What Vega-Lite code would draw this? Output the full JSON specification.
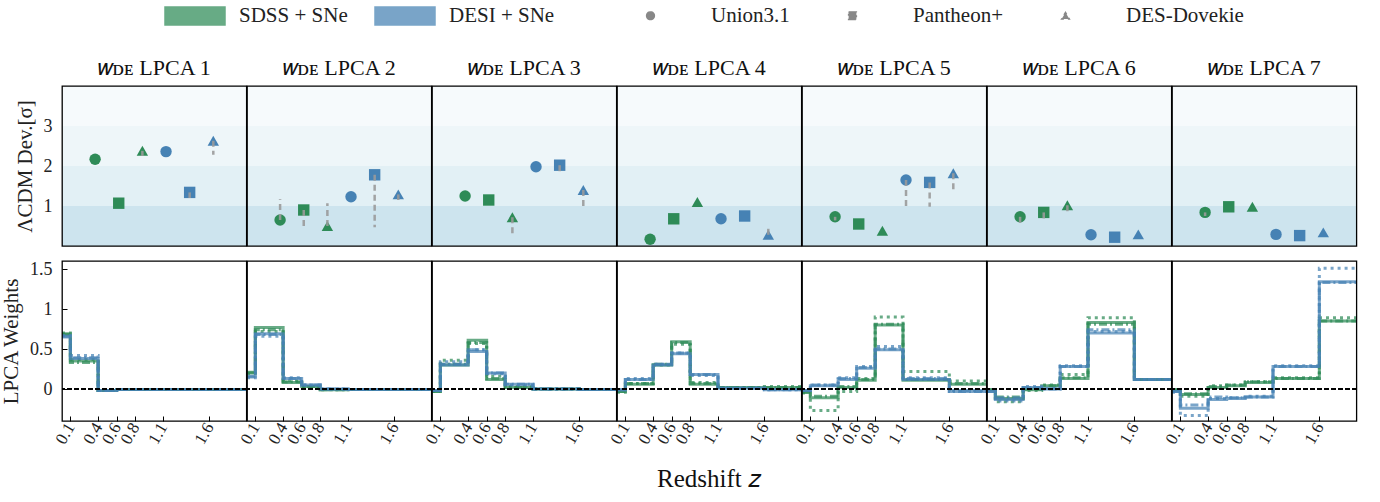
{
  "$schema": "https://vega.github.io/schema/vega-lite/v6.json",
  "padding": {"left": 0, "top": 0, "right": 20, "bottom": 4},
  "config": {
    "font": "Liberation Serif",
    "view": {"stroke": "black", "strokeWidth": 1.3},
    "style": {"cell": {"strokeForeground": true}},
    "axis": {"labelFont": "Liberation Serif", "labelFontSize": 17, "labelColor": "#222", "titleFont": "Liberation Serif", "titleFontWeight": "normal", "titleFontSize": 21, "titleColor": "#222", "grid": false, "domain": false, "tickColor": "black", "tickSize": -5, "labelPadding": 10, "zindex": 1},
    "header": {"labelFont": "Liberation Serif", "labelFontSize": 22, "labelColor": "#111", "titleFont": "Liberation Serif", "titleFontWeight": "normal", "titleColor": "#111"},
    "legend": {"labelFont": "Liberation Serif", "labelFontSize": 21, "labelColor": "#222"}
  },
  "datasets": {
    "top": [
      {"p":"1","k":"band","lo":0,"hi":1,"band":"0-1"},{"p":"1","k":"band","lo":1,"hi":2,"band":"1-2"},{"p":"1","k":"band","lo":2,"hi":3,"band":"2-3"},{"p":"1","k":"band","lo":3,"hi":4,"band":"3-4"},
      {"p":"2","k":"band","lo":0,"hi":1,"band":"0-1"},{"p":"2","k":"band","lo":1,"hi":2,"band":"1-2"},{"p":"2","k":"band","lo":2,"hi":3,"band":"2-3"},{"p":"2","k":"band","lo":3,"hi":4,"band":"3-4"},
      {"p":"3","k":"band","lo":0,"hi":1,"band":"0-1"},{"p":"3","k":"band","lo":1,"hi":2,"band":"1-2"},{"p":"3","k":"band","lo":2,"hi":3,"band":"2-3"},{"p":"3","k":"band","lo":3,"hi":4,"band":"3-4"},
      {"p":"4","k":"band","lo":0,"hi":1,"band":"0-1"},{"p":"4","k":"band","lo":1,"hi":2,"band":"1-2"},{"p":"4","k":"band","lo":2,"hi":3,"band":"2-3"},{"p":"4","k":"band","lo":3,"hi":4,"band":"3-4"},
      {"p":"5","k":"band","lo":0,"hi":1,"band":"0-1"},{"p":"5","k":"band","lo":1,"hi":2,"band":"1-2"},{"p":"5","k":"band","lo":2,"hi":3,"band":"2-3"},{"p":"5","k":"band","lo":3,"hi":4,"band":"3-4"},
      {"p":"6","k":"band","lo":0,"hi":1,"band":"0-1"},{"p":"6","k":"band","lo":1,"hi":2,"band":"1-2"},{"p":"6","k":"band","lo":2,"hi":3,"band":"2-3"},{"p":"6","k":"band","lo":3,"hi":4,"band":"3-4"},
      {"p":"7","k":"band","lo":0,"hi":1,"band":"0-1"},{"p":"7","k":"band","lo":1,"hi":2,"band":"1-2"},{"p":"7","k":"band","lo":2,"hi":3,"band":"2-3"},{"p":"7","k":"band","lo":3,"hi":4,"band":"3-4"},
      {"p":"1","k":"pt","i":0,"d":"SDSS + SNe","s":"Union3.1","v":2.17,"v2":null},
      {"p":"1","k":"pt","i":1,"d":"SDSS + SNe","s":"Pantheon+","v":1.07,"v2":null},
      {"p":"1","k":"pt","i":2,"d":"SDSS + SNe","s":"DES-Dovekie","v":2.38,"v2":2.25},
      {"p":"1","k":"pt","i":3,"d":"DESI + SNe","s":"Union3.1","v":2.36,"v2":null},
      {"p":"1","k":"pt","i":4,"d":"DESI + SNe","s":"Pantheon+","v":1.34,"v2":1.2},
      {"p":"1","k":"pt","i":5,"d":"DESI + SNe","s":"DES-Dovekie","v":2.63,"v2":2.28},
      {"p":"2","k":"pt","i":0,"d":"SDSS + SNe","s":"Union3.1","v":0.65,"v2":1.17},
      {"p":"2","k":"pt","i":1,"d":"SDSS + SNe","s":"Pantheon+","v":0.9,"v2":0.4},
      {"p":"2","k":"pt","i":2,"d":"SDSS + SNe","s":"DES-Dovekie","v":0.5,"v2":1.07},
      {"p":"2","k":"pt","i":3,"d":"DESI + SNe","s":"Union3.1","v":1.23,"v2":null},
      {"p":"2","k":"pt","i":4,"d":"DESI + SNe","s":"Pantheon+","v":1.78,"v2":0.47},
      {"p":"2","k":"pt","i":5,"d":"DESI + SNe","s":"DES-Dovekie","v":1.29,"v2":1.15},
      {"p":"3","k":"pt","i":0,"d":"SDSS + SNe","s":"Union3.1","v":1.25,"v2":null},
      {"p":"3","k":"pt","i":1,"d":"SDSS + SNe","s":"Pantheon+","v":1.15,"v2":null},
      {"p":"3","k":"pt","i":2,"d":"SDSS + SNe","s":"DES-Dovekie","v":0.72,"v2":0.28},
      {"p":"3","k":"pt","i":3,"d":"DESI + SNe","s":"Union3.1","v":1.98,"v2":null},
      {"p":"3","k":"pt","i":4,"d":"DESI + SNe","s":"Pantheon+","v":2.02,"v2":1.78},
      {"p":"3","k":"pt","i":5,"d":"DESI + SNe","s":"DES-Dovekie","v":1.4,"v2":0.9},
      {"p":"4","k":"pt","i":0,"d":"SDSS + SNe","s":"Union3.1","v":0.17,"v2":null},
      {"p":"4","k":"pt","i":1,"d":"SDSS + SNe","s":"Pantheon+","v":0.68,"v2":null},
      {"p":"4","k":"pt","i":2,"d":"SDSS + SNe","s":"DES-Dovekie","v":1.1,"v2":null},
      {"p":"4","k":"pt","i":3,"d":"DESI + SNe","s":"Union3.1","v":0.68,"v2":null},
      {"p":"4","k":"pt","i":4,"d":"DESI + SNe","s":"Pantheon+","v":0.75,"v2":null},
      {"p":"4","k":"pt","i":5,"d":"DESI + SNe","s":"DES-Dovekie","v":0.28,"v2":0.44},
      {"p":"5","k":"pt","i":0,"d":"SDSS + SNe","s":"Union3.1","v":0.73,"v2":0.64},
      {"p":"5","k":"pt","i":1,"d":"SDSS + SNe","s":"Pantheon+","v":0.55,"v2":null},
      {"p":"5","k":"pt","i":2,"d":"SDSS + SNe","s":"DES-Dovekie","v":0.38,"v2":null},
      {"p":"5","k":"pt","i":3,"d":"DESI + SNe","s":"Union3.1","v":1.65,"v2":0.9},
      {"p":"5","k":"pt","i":4,"d":"DESI + SNe","s":"Pantheon+","v":1.59,"v2":0.98},
      {"p":"5","k":"pt","i":5,"d":"DESI + SNe","s":"DES-Dovekie","v":1.82,"v2":1.42},
      {"p":"6","k":"pt","i":0,"d":"SDSS + SNe","s":"Union3.1","v":0.73,"v2":0.52},
      {"p":"6","k":"pt","i":1,"d":"SDSS + SNe","s":"Pantheon+","v":0.84,"v2":0.61},
      {"p":"6","k":"pt","i":2,"d":"SDSS + SNe","s":"DES-Dovekie","v":1.02,"v2":0.83},
      {"p":"6","k":"pt","i":3,"d":"DESI + SNe","s":"Union3.1","v":0.28,"v2":null},
      {"p":"6","k":"pt","i":4,"d":"DESI + SNe","s":"Pantheon+","v":0.22,"v2":null},
      {"p":"6","k":"pt","i":5,"d":"DESI + SNe","s":"DES-Dovekie","v":0.29,"v2":null},
      {"p":"7","k":"pt","i":0,"d":"SDSS + SNe","s":"Union3.1","v":0.84,"v2":0.75},
      {"p":"7","k":"pt","i":1,"d":"SDSS + SNe","s":"Pantheon+","v":0.98,"v2":null},
      {"p":"7","k":"pt","i":2,"d":"SDSS + SNe","s":"DES-Dovekie","v":0.98,"v2":null},
      {"p":"7","k":"pt","i":3,"d":"DESI + SNe","s":"Union3.1","v":0.29,"v2":null},
      {"p":"7","k":"pt","i":4,"d":"DESI + SNe","s":"Pantheon+","v":0.26,"v2":null},
      {"p":"7","k":"pt","i":5,"d":"DESI + SNe","s":"DES-Dovekie","v":0.34,"v2":null}
    ],
    "bottom": [
      {"p":"1","d":"SDSS + SNe","s":"Union3.1","z":0.01,"w":0.69},{"p":"1","d":"SDSS + SNe","s":"Union3.1","z":0.1,"w":0.35},{"p":"1","d":"SDSS + SNe","s":"Union3.1","z":0.4,"w":-0.02},{"p":"1","d":"SDSS + SNe","s":"Union3.1","z":0.6,"w":-0.005},{"p":"1","d":"SDSS + SNe","s":"Union3.1","z":0.8,"w":-0.005},{"p":"1","d":"SDSS + SNe","s":"Union3.1","z":1.1,"w":-0.005},{"p":"1","d":"SDSS + SNe","s":"Union3.1","z":1.6,"w":-0.005},{"p":"1","d":"SDSS + SNe","s":"Union3.1","z":2.0,"w":-0.005},
      {"p":"1","d":"SDSS + SNe","s":"Pantheon+","z":0.01,"w":0.68},{"p":"1","d":"SDSS + SNe","s":"Pantheon+","z":0.1,"w":0.33},{"p":"1","d":"SDSS + SNe","s":"Pantheon+","z":0.4,"w":-0.02},{"p":"1","d":"SDSS + SNe","s":"Pantheon+","z":0.6,"w":-0.005},{"p":"1","d":"SDSS + SNe","s":"Pantheon+","z":0.8,"w":-0.005},{"p":"1","d":"SDSS + SNe","s":"Pantheon+","z":1.1,"w":-0.005},{"p":"1","d":"SDSS + SNe","s":"Pantheon+","z":1.6,"w":-0.005},{"p":"1","d":"SDSS + SNe","s":"Pantheon+","z":2.0,"w":-0.005},
      {"p":"1","d":"SDSS + SNe","s":"DES-Dovekie","z":0.01,"w":0.7},{"p":"1","d":"SDSS + SNe","s":"DES-Dovekie","z":0.1,"w":0.37},{"p":"1","d":"SDSS + SNe","s":"DES-Dovekie","z":0.4,"w":-0.02},{"p":"1","d":"SDSS + SNe","s":"DES-Dovekie","z":0.6,"w":-0.005},{"p":"1","d":"SDSS + SNe","s":"DES-Dovekie","z":0.8,"w":-0.005},{"p":"1","d":"SDSS + SNe","s":"DES-Dovekie","z":1.1,"w":-0.005},{"p":"1","d":"SDSS + SNe","s":"DES-Dovekie","z":1.6,"w":-0.005},{"p":"1","d":"SDSS + SNe","s":"DES-Dovekie","z":2.0,"w":-0.005},
      {"p":"1","d":"DESI + SNe","s":"Union3.1","z":0.01,"w":0.66},{"p":"1","d":"DESI + SNe","s":"Union3.1","z":0.1,"w":0.38},{"p":"1","d":"DESI + SNe","s":"Union3.1","z":0.4,"w":-0.02},{"p":"1","d":"DESI + SNe","s":"Union3.1","z":0.6,"w":-0.005},{"p":"1","d":"DESI + SNe","s":"Union3.1","z":0.8,"w":-0.005},{"p":"1","d":"DESI + SNe","s":"Union3.1","z":1.1,"w":-0.005},{"p":"1","d":"DESI + SNe","s":"Union3.1","z":1.6,"w":-0.005},{"p":"1","d":"DESI + SNe","s":"Union3.1","z":2.0,"w":-0.005},
      {"p":"1","d":"DESI + SNe","s":"Pantheon+","z":0.01,"w":0.65},{"p":"1","d":"DESI + SNe","s":"Pantheon+","z":0.1,"w":0.39},{"p":"1","d":"DESI + SNe","s":"Pantheon+","z":0.4,"w":-0.02},{"p":"1","d":"DESI + SNe","s":"Pantheon+","z":0.6,"w":-0.005},{"p":"1","d":"DESI + SNe","s":"Pantheon+","z":0.8,"w":-0.005},{"p":"1","d":"DESI + SNe","s":"Pantheon+","z":1.1,"w":-0.005},{"p":"1","d":"DESI + SNe","s":"Pantheon+","z":1.6,"w":-0.005},{"p":"1","d":"DESI + SNe","s":"Pantheon+","z":2.0,"w":-0.005},
      {"p":"1","d":"DESI + SNe","s":"DES-Dovekie","z":0.01,"w":0.67},{"p":"1","d":"DESI + SNe","s":"DES-Dovekie","z":0.1,"w":0.42},{"p":"1","d":"DESI + SNe","s":"DES-Dovekie","z":0.4,"w":-0.02},{"p":"1","d":"DESI + SNe","s":"DES-Dovekie","z":0.6,"w":-0.005},{"p":"1","d":"DESI + SNe","s":"DES-Dovekie","z":0.8,"w":-0.005},{"p":"1","d":"DESI + SNe","s":"DES-Dovekie","z":1.1,"w":-0.005},{"p":"1","d":"DESI + SNe","s":"DES-Dovekie","z":1.6,"w":-0.005},{"p":"1","d":"DESI + SNe","s":"DES-Dovekie","z":2.0,"w":-0.005},

      {"p":"2","d":"SDSS + SNe","s":"Union3.1","z":0.01,"w":0.21},{"p":"2","d":"SDSS + SNe","s":"Union3.1","z":0.1,"w":0.77},{"p":"2","d":"SDSS + SNe","s":"Union3.1","z":0.4,"w":0.08},{"p":"2","d":"SDSS + SNe","s":"Union3.1","z":0.6,"w":0.03},{"p":"2","d":"SDSS + SNe","s":"Union3.1","z":0.8,"w":-0.01},{"p":"2","d":"SDSS + SNe","s":"Union3.1","z":1.1,"w":-0.005},{"p":"2","d":"SDSS + SNe","s":"Union3.1","z":1.6,"w":-0.005},{"p":"2","d":"SDSS + SNe","s":"Union3.1","z":2.0,"w":-0.005},
      {"p":"2","d":"SDSS + SNe","s":"Pantheon+","z":0.01,"w":0.2},{"p":"2","d":"SDSS + SNe","s":"Pantheon+","z":0.1,"w":0.74},{"p":"2","d":"SDSS + SNe","s":"Pantheon+","z":0.4,"w":0.09},{"p":"2","d":"SDSS + SNe","s":"Pantheon+","z":0.6,"w":0.03},{"p":"2","d":"SDSS + SNe","s":"Pantheon+","z":0.8,"w":-0.01},{"p":"2","d":"SDSS + SNe","s":"Pantheon+","z":1.1,"w":-0.005},{"p":"2","d":"SDSS + SNe","s":"Pantheon+","z":1.6,"w":-0.005},{"p":"2","d":"SDSS + SNe","s":"Pantheon+","z":2.0,"w":-0.005},
      {"p":"2","d":"SDSS + SNe","s":"DES-Dovekie","z":0.01,"w":0.19},{"p":"2","d":"SDSS + SNe","s":"DES-Dovekie","z":0.1,"w":0.72},{"p":"2","d":"SDSS + SNe","s":"DES-Dovekie","z":0.4,"w":0.1},{"p":"2","d":"SDSS + SNe","s":"DES-Dovekie","z":0.6,"w":0.02},{"p":"2","d":"SDSS + SNe","s":"DES-Dovekie","z":0.8,"w":-0.01},{"p":"2","d":"SDSS + SNe","s":"DES-Dovekie","z":1.1,"w":-0.005},{"p":"2","d":"SDSS + SNe","s":"DES-Dovekie","z":1.6,"w":-0.005},{"p":"2","d":"SDSS + SNe","s":"DES-Dovekie","z":2.0,"w":-0.005},
      {"p":"2","d":"DESI + SNe","s":"Union3.1","z":0.01,"w":0.16},{"p":"2","d":"DESI + SNe","s":"Union3.1","z":0.1,"w":0.69},{"p":"2","d":"DESI + SNe","s":"Union3.1","z":0.4,"w":0.13},{"p":"2","d":"DESI + SNe","s":"Union3.1","z":0.6,"w":0.05},{"p":"2","d":"DESI + SNe","s":"Union3.1","z":0.8,"w":0.0},{"p":"2","d":"DESI + SNe","s":"Union3.1","z":1.1,"w":-0.005},{"p":"2","d":"DESI + SNe","s":"Union3.1","z":1.6,"w":-0.005},{"p":"2","d":"DESI + SNe","s":"Union3.1","z":2.0,"w":-0.005},
      {"p":"2","d":"DESI + SNe","s":"Pantheon+","z":0.01,"w":0.15},{"p":"2","d":"DESI + SNe","s":"Pantheon+","z":0.1,"w":0.68},{"p":"2","d":"DESI + SNe","s":"Pantheon+","z":0.4,"w":0.13},{"p":"2","d":"DESI + SNe","s":"Pantheon+","z":0.6,"w":0.05},{"p":"2","d":"DESI + SNe","s":"Pantheon+","z":0.8,"w":0.0},{"p":"2","d":"DESI + SNe","s":"Pantheon+","z":1.1,"w":-0.005},{"p":"2","d":"DESI + SNe","s":"Pantheon+","z":1.6,"w":-0.005},{"p":"2","d":"DESI + SNe","s":"Pantheon+","z":2.0,"w":-0.005},
      {"p":"2","d":"DESI + SNe","s":"DES-Dovekie","z":0.01,"w":0.14},{"p":"2","d":"DESI + SNe","s":"DES-Dovekie","z":0.1,"w":0.66},{"p":"2","d":"DESI + SNe","s":"DES-Dovekie","z":0.4,"w":0.14},{"p":"2","d":"DESI + SNe","s":"DES-Dovekie","z":0.6,"w":0.05},{"p":"2","d":"DESI + SNe","s":"DES-Dovekie","z":0.8,"w":0.0},{"p":"2","d":"DESI + SNe","s":"DES-Dovekie","z":1.1,"w":-0.005},{"p":"2","d":"DESI + SNe","s":"DES-Dovekie","z":1.6,"w":-0.005},{"p":"2","d":"DESI + SNe","s":"DES-Dovekie","z":2.0,"w":-0.005},

      {"p":"3","d":"SDSS + SNe","s":"Union3.1","z":0.01,"w":-0.03},{"p":"3","d":"SDSS + SNe","s":"Union3.1","z":0.1,"w":0.3},{"p":"3","d":"SDSS + SNe","s":"Union3.1","z":0.4,"w":0.61},{"p":"3","d":"SDSS + SNe","s":"Union3.1","z":0.6,"w":0.12},{"p":"3","d":"SDSS + SNe","s":"Union3.1","z":0.8,"w":0.02},{"p":"3","d":"SDSS + SNe","s":"Union3.1","z":1.1,"w":0.0},{"p":"3","d":"SDSS + SNe","s":"Union3.1","z":1.6,"w":-0.005},{"p":"3","d":"SDSS + SNe","s":"Union3.1","z":2.0,"w":-0.005},
      {"p":"3","d":"SDSS + SNe","s":"Pantheon+","z":0.01,"w":-0.03},{"p":"3","d":"SDSS + SNe","s":"Pantheon+","z":0.1,"w":0.31},{"p":"3","d":"SDSS + SNe","s":"Pantheon+","z":0.4,"w":0.58},{"p":"3","d":"SDSS + SNe","s":"Pantheon+","z":0.6,"w":0.13},{"p":"3","d":"SDSS + SNe","s":"Pantheon+","z":0.8,"w":0.02},{"p":"3","d":"SDSS + SNe","s":"Pantheon+","z":1.1,"w":0.0},{"p":"3","d":"SDSS + SNe","s":"Pantheon+","z":1.6,"w":-0.005},{"p":"3","d":"SDSS + SNe","s":"Pantheon+","z":2.0,"w":-0.005},
      {"p":"3","d":"SDSS + SNe","s":"DES-Dovekie","z":0.01,"w":-0.03},{"p":"3","d":"SDSS + SNe","s":"DES-Dovekie","z":0.1,"w":0.36},{"p":"3","d":"SDSS + SNe","s":"DES-Dovekie","z":0.4,"w":0.57},{"p":"3","d":"SDSS + SNe","s":"DES-Dovekie","z":0.6,"w":0.16},{"p":"3","d":"SDSS + SNe","s":"DES-Dovekie","z":0.8,"w":0.03},{"p":"3","d":"SDSS + SNe","s":"DES-Dovekie","z":1.1,"w":0.0},{"p":"3","d":"SDSS + SNe","s":"DES-Dovekie","z":1.6,"w":-0.005},{"p":"3","d":"SDSS + SNe","s":"DES-Dovekie","z":2.0,"w":-0.005},
      {"p":"3","d":"DESI + SNe","s":"Union3.1","z":0.01,"w":-0.02},{"p":"3","d":"DESI + SNe","s":"Union3.1","z":0.1,"w":0.3},{"p":"3","d":"DESI + SNe","s":"Union3.1","z":0.4,"w":0.47},{"p":"3","d":"DESI + SNe","s":"Union3.1","z":0.6,"w":0.2},{"p":"3","d":"DESI + SNe","s":"Union3.1","z":0.8,"w":0.06},{"p":"3","d":"DESI + SNe","s":"Union3.1","z":1.1,"w":0.0},{"p":"3","d":"DESI + SNe","s":"Union3.1","z":1.6,"w":-0.005},{"p":"3","d":"DESI + SNe","s":"Union3.1","z":2.0,"w":-0.005},
      {"p":"3","d":"DESI + SNe","s":"Pantheon+","z":0.01,"w":-0.02},{"p":"3","d":"DESI + SNe","s":"Pantheon+","z":0.1,"w":0.31},{"p":"3","d":"DESI + SNe","s":"Pantheon+","z":0.4,"w":0.49},{"p":"3","d":"DESI + SNe","s":"Pantheon+","z":0.6,"w":0.2},{"p":"3","d":"DESI + SNe","s":"Pantheon+","z":0.8,"w":0.06},{"p":"3","d":"DESI + SNe","s":"Pantheon+","z":1.1,"w":0.0},{"p":"3","d":"DESI + SNe","s":"Pantheon+","z":1.6,"w":-0.005},{"p":"3","d":"DESI + SNe","s":"Pantheon+","z":2.0,"w":-0.005},
      {"p":"3","d":"DESI + SNe","s":"DES-Dovekie","z":0.01,"w":-0.02},{"p":"3","d":"DESI + SNe","s":"DES-Dovekie","z":0.1,"w":0.34},{"p":"3","d":"DESI + SNe","s":"DES-Dovekie","z":0.4,"w":0.49},{"p":"3","d":"DESI + SNe","s":"DES-Dovekie","z":0.6,"w":0.19},{"p":"3","d":"DESI + SNe","s":"DES-Dovekie","z":0.8,"w":0.05},{"p":"3","d":"DESI + SNe","s":"DES-Dovekie","z":1.1,"w":0.0},{"p":"3","d":"DESI + SNe","s":"DES-Dovekie","z":1.6,"w":-0.005},{"p":"3","d":"DESI + SNe","s":"DES-Dovekie","z":2.0,"w":-0.005},

      {"p":"4","d":"SDSS + SNe","s":"Union3.1","z":0.01,"w":-0.03},{"p":"4","d":"SDSS + SNe","s":"Union3.1","z":0.1,"w":0.06},{"p":"4","d":"SDSS + SNe","s":"Union3.1","z":0.4,"w":0.3},{"p":"4","d":"SDSS + SNe","s":"Union3.1","z":0.6,"w":0.59},{"p":"4","d":"SDSS + SNe","s":"Union3.1","z":0.8,"w":0.06},{"p":"4","d":"SDSS + SNe","s":"Union3.1","z":1.1,"w":0.02},{"p":"4","d":"SDSS + SNe","s":"Union3.1","z":1.6,"w":0.02},{"p":"4","d":"SDSS + SNe","s":"Union3.1","z":2.0,"w":0.02},
      {"p":"4","d":"SDSS + SNe","s":"Pantheon+","z":0.01,"w":-0.03},{"p":"4","d":"SDSS + SNe","s":"Pantheon+","z":0.1,"w":0.07},{"p":"4","d":"SDSS + SNe","s":"Pantheon+","z":0.4,"w":0.31},{"p":"4","d":"SDSS + SNe","s":"Pantheon+","z":0.6,"w":0.58},{"p":"4","d":"SDSS + SNe","s":"Pantheon+","z":0.8,"w":0.07},{"p":"4","d":"SDSS + SNe","s":"Pantheon+","z":1.1,"w":0.02},{"p":"4","d":"SDSS + SNe","s":"Pantheon+","z":1.6,"w":0.02},{"p":"4","d":"SDSS + SNe","s":"Pantheon+","z":2.0,"w":0.02},
      {"p":"4","d":"SDSS + SNe","s":"DES-Dovekie","z":0.01,"w":-0.04},{"p":"4","d":"SDSS + SNe","s":"DES-Dovekie","z":0.1,"w":0.07},{"p":"4","d":"SDSS + SNe","s":"DES-Dovekie","z":0.4,"w":0.3},{"p":"4","d":"SDSS + SNe","s":"DES-Dovekie","z":0.6,"w":0.56},{"p":"4","d":"SDSS + SNe","s":"DES-Dovekie","z":0.8,"w":0.08},{"p":"4","d":"SDSS + SNe","s":"DES-Dovekie","z":1.1,"w":0.02},{"p":"4","d":"SDSS + SNe","s":"DES-Dovekie","z":1.6,"w":0.03},{"p":"4","d":"SDSS + SNe","s":"DES-Dovekie","z":2.0,"w":0.03},
      {"p":"4","d":"DESI + SNe","s":"Union3.1","z":0.01,"w":-0.01},{"p":"4","d":"DESI + SNe","s":"Union3.1","z":0.1,"w":0.12},{"p":"4","d":"DESI + SNe","s":"Union3.1","z":0.4,"w":0.3},{"p":"4","d":"DESI + SNe","s":"Union3.1","z":0.6,"w":0.44},{"p":"4","d":"DESI + SNe","s":"Union3.1","z":0.8,"w":0.18},{"p":"4","d":"DESI + SNe","s":"Union3.1","z":1.1,"w":0.01},{"p":"4","d":"DESI + SNe","s":"Union3.1","z":1.6,"w":-0.01},{"p":"4","d":"DESI + SNe","s":"Union3.1","z":2.0,"w":-0.01},
      {"p":"4","d":"DESI + SNe","s":"Pantheon+","z":0.01,"w":-0.01},{"p":"4","d":"DESI + SNe","s":"Pantheon+","z":0.1,"w":0.12},{"p":"4","d":"DESI + SNe","s":"Pantheon+","z":0.4,"w":0.31},{"p":"4","d":"DESI + SNe","s":"Pantheon+","z":0.6,"w":0.45},{"p":"4","d":"DESI + SNe","s":"Pantheon+","z":0.8,"w":0.18},{"p":"4","d":"DESI + SNe","s":"Pantheon+","z":1.1,"w":0.01},{"p":"4","d":"DESI + SNe","s":"Pantheon+","z":1.6,"w":-0.01},{"p":"4","d":"DESI + SNe","s":"Pantheon+","z":2.0,"w":-0.01},
      {"p":"4","d":"DESI + SNe","s":"DES-Dovekie","z":0.01,"w":-0.01},{"p":"4","d":"DESI + SNe","s":"DES-Dovekie","z":0.1,"w":0.13},{"p":"4","d":"DESI + SNe","s":"DES-Dovekie","z":0.4,"w":0.31},{"p":"4","d":"DESI + SNe","s":"DES-Dovekie","z":0.6,"w":0.45},{"p":"4","d":"DESI + SNe","s":"DES-Dovekie","z":0.8,"w":0.17},{"p":"4","d":"DESI + SNe","s":"DES-Dovekie","z":1.1,"w":0.01},{"p":"4","d":"DESI + SNe","s":"DES-Dovekie","z":1.6,"w":-0.01},{"p":"4","d":"DESI + SNe","s":"DES-Dovekie","z":2.0,"w":-0.01},

      {"p":"5","d":"SDSS + SNe","s":"Union3.1","z":0.01,"w":-0.04},{"p":"5","d":"SDSS + SNe","s":"Union3.1","z":0.1,"w":-0.11},{"p":"5","d":"SDSS + SNe","s":"Union3.1","z":0.4,"w":0.02},{"p":"5","d":"SDSS + SNe","s":"Union3.1","z":0.6,"w":0.11},{"p":"5","d":"SDSS + SNe","s":"Union3.1","z":0.8,"w":0.8},{"p":"5","d":"SDSS + SNe","s":"Union3.1","z":1.1,"w":0.11},{"p":"5","d":"SDSS + SNe","s":"Union3.1","z":1.6,"w":0.06},{"p":"5","d":"SDSS + SNe","s":"Union3.1","z":2.0,"w":0.06},
      {"p":"5","d":"SDSS + SNe","s":"Pantheon+","z":0.01,"w":-0.04},{"p":"5","d":"SDSS + SNe","s":"Pantheon+","z":0.1,"w":-0.09},{"p":"5","d":"SDSS + SNe","s":"Pantheon+","z":0.4,"w":0.03},{"p":"5","d":"SDSS + SNe","s":"Pantheon+","z":0.6,"w":0.12},{"p":"5","d":"SDSS + SNe","s":"Pantheon+","z":0.8,"w":0.81},{"p":"5","d":"SDSS + SNe","s":"Pantheon+","z":1.1,"w":0.12},{"p":"5","d":"SDSS + SNe","s":"Pantheon+","z":1.6,"w":0.07},{"p":"5","d":"SDSS + SNe","s":"Pantheon+","z":2.0,"w":0.07},
      {"p":"5","d":"SDSS + SNe","s":"DES-Dovekie","z":0.01,"w":-0.05},{"p":"5","d":"SDSS + SNe","s":"DES-Dovekie","z":0.1,"w":-0.27},{"p":"5","d":"SDSS + SNe","s":"DES-Dovekie","z":0.4,"w":-0.03},{"p":"5","d":"SDSS + SNe","s":"DES-Dovekie","z":0.6,"w":0.13},{"p":"5","d":"SDSS + SNe","s":"DES-Dovekie","z":0.8,"w":0.9},{"p":"5","d":"SDSS + SNe","s":"DES-Dovekie","z":1.1,"w":0.22},{"p":"5","d":"SDSS + SNe","s":"DES-Dovekie","z":1.6,"w":0.1},{"p":"5","d":"SDSS + SNe","s":"DES-Dovekie","z":2.0,"w":0.1},
      {"p":"5","d":"DESI + SNe","s":"Union3.1","z":0.01,"w":-0.02},{"p":"5","d":"DESI + SNe","s":"Union3.1","z":0.1,"w":0.04},{"p":"5","d":"DESI + SNe","s":"Union3.1","z":0.4,"w":0.12},{"p":"5","d":"DESI + SNe","s":"Union3.1","z":0.6,"w":0.26},{"p":"5","d":"DESI + SNe","s":"Union3.1","z":0.8,"w":0.49},{"p":"5","d":"DESI + SNe","s":"Union3.1","z":1.1,"w":0.12},{"p":"5","d":"DESI + SNe","s":"Union3.1","z":1.6,"w":-0.03},{"p":"5","d":"DESI + SNe","s":"Union3.1","z":2.0,"w":-0.03},
      {"p":"5","d":"DESI + SNe","s":"Pantheon+","z":0.01,"w":-0.02},{"p":"5","d":"DESI + SNe","s":"Pantheon+","z":0.1,"w":0.05},{"p":"5","d":"DESI + SNe","s":"Pantheon+","z":0.4,"w":0.13},{"p":"5","d":"DESI + SNe","s":"Pantheon+","z":0.6,"w":0.27},{"p":"5","d":"DESI + SNe","s":"Pantheon+","z":0.8,"w":0.5},{"p":"5","d":"DESI + SNe","s":"Pantheon+","z":1.1,"w":0.13},{"p":"5","d":"DESI + SNe","s":"Pantheon+","z":1.6,"w":-0.03},{"p":"5","d":"DESI + SNe","s":"Pantheon+","z":2.0,"w":-0.03},
      {"p":"5","d":"DESI + SNe","s":"DES-Dovekie","z":0.01,"w":-0.02},{"p":"5","d":"DESI + SNe","s":"DES-Dovekie","z":0.1,"w":0.05},{"p":"5","d":"DESI + SNe","s":"DES-Dovekie","z":0.4,"w":0.14},{"p":"5","d":"DESI + SNe","s":"DES-Dovekie","z":0.6,"w":0.28},{"p":"5","d":"DESI + SNe","s":"DES-Dovekie","z":0.8,"w":0.53},{"p":"5","d":"DESI + SNe","s":"DES-Dovekie","z":1.1,"w":0.14},{"p":"5","d":"DESI + SNe","s":"DES-Dovekie","z":1.6,"w":-0.02},{"p":"5","d":"DESI + SNe","s":"DES-Dovekie","z":2.0,"w":-0.02},

      {"p":"6","d":"SDSS + SNe","s":"Union3.1","z":0.01,"w":-0.01},{"p":"6","d":"SDSS + SNe","s":"Union3.1","z":0.1,"w":-0.12},{"p":"6","d":"SDSS + SNe","s":"Union3.1","z":0.4,"w":-0.01},{"p":"6","d":"SDSS + SNe","s":"Union3.1","z":0.6,"w":0.04},{"p":"6","d":"SDSS + SNe","s":"Union3.1","z":0.8,"w":0.13},{"p":"6","d":"SDSS + SNe","s":"Union3.1","z":1.1,"w":0.83},{"p":"6","d":"SDSS + SNe","s":"Union3.1","z":1.6,"w":0.12},{"p":"6","d":"SDSS + SNe","s":"Union3.1","z":2.0,"w":0.12},
      {"p":"6","d":"SDSS + SNe","s":"Pantheon+","z":0.01,"w":-0.01},{"p":"6","d":"SDSS + SNe","s":"Pantheon+","z":0.1,"w":-0.1},{"p":"6","d":"SDSS + SNe","s":"Pantheon+","z":0.4,"w":0.0},{"p":"6","d":"SDSS + SNe","s":"Pantheon+","z":0.6,"w":0.04},{"p":"6","d":"SDSS + SNe","s":"Pantheon+","z":0.8,"w":0.14},{"p":"6","d":"SDSS + SNe","s":"Pantheon+","z":1.1,"w":0.81},{"p":"6","d":"SDSS + SNe","s":"Pantheon+","z":1.6,"w":0.12},{"p":"6","d":"SDSS + SNe","s":"Pantheon+","z":2.0,"w":0.12},
      {"p":"6","d":"SDSS + SNe","s":"DES-Dovekie","z":0.01,"w":-0.02},{"p":"6","d":"SDSS + SNe","s":"DES-Dovekie","z":0.1,"w":-0.16},{"p":"6","d":"SDSS + SNe","s":"DES-Dovekie","z":0.4,"w":-0.02},{"p":"6","d":"SDSS + SNe","s":"DES-Dovekie","z":0.6,"w":0.05},{"p":"6","d":"SDSS + SNe","s":"DES-Dovekie","z":0.8,"w":0.18},{"p":"6","d":"SDSS + SNe","s":"DES-Dovekie","z":1.1,"w":0.89},{"p":"6","d":"SDSS + SNe","s":"DES-Dovekie","z":1.6,"w":0.12},{"p":"6","d":"SDSS + SNe","s":"DES-Dovekie","z":2.0,"w":0.12},
      {"p":"6","d":"DESI + SNe","s":"Union3.1","z":0.01,"w":-0.03},{"p":"6","d":"DESI + SNe","s":"Union3.1","z":0.1,"w":-0.13},{"p":"6","d":"DESI + SNe","s":"Union3.1","z":0.4,"w":0.02},{"p":"6","d":"DESI + SNe","s":"Union3.1","z":0.6,"w":0.0},{"p":"6","d":"DESI + SNe","s":"Union3.1","z":0.8,"w":0.28},{"p":"6","d":"DESI + SNe","s":"Union3.1","z":1.1,"w":0.7},{"p":"6","d":"DESI + SNe","s":"Union3.1","z":1.6,"w":0.12},{"p":"6","d":"DESI + SNe","s":"Union3.1","z":2.0,"w":0.12},
      {"p":"6","d":"DESI + SNe","s":"Pantheon+","z":0.01,"w":-0.03},{"p":"6","d":"DESI + SNe","s":"Pantheon+","z":0.1,"w":-0.11},{"p":"6","d":"DESI + SNe","s":"Pantheon+","z":0.4,"w":0.02},{"p":"6","d":"DESI + SNe","s":"Pantheon+","z":0.6,"w":0.0},{"p":"6","d":"DESI + SNe","s":"Pantheon+","z":0.8,"w":0.28},{"p":"6","d":"DESI + SNe","s":"Pantheon+","z":1.1,"w":0.74},{"p":"6","d":"DESI + SNe","s":"Pantheon+","z":1.6,"w":0.12},{"p":"6","d":"DESI + SNe","s":"Pantheon+","z":2.0,"w":0.12},
      {"p":"6","d":"DESI + SNe","s":"DES-Dovekie","z":0.01,"w":-0.03},{"p":"6","d":"DESI + SNe","s":"DES-Dovekie","z":0.1,"w":-0.15},{"p":"6","d":"DESI + SNe","s":"DES-Dovekie","z":0.4,"w":0.03},{"p":"6","d":"DESI + SNe","s":"DES-Dovekie","z":0.6,"w":0.01},{"p":"6","d":"DESI + SNe","s":"DES-Dovekie","z":0.8,"w":0.29},{"p":"6","d":"DESI + SNe","s":"DES-Dovekie","z":1.1,"w":0.72},{"p":"6","d":"DESI + SNe","s":"DES-Dovekie","z":1.6,"w":0.12},{"p":"6","d":"DESI + SNe","s":"DES-Dovekie","z":2.0,"w":0.12},

      {"p":"7","d":"SDSS + SNe","s":"Union3.1","z":0.01,"w":-0.01},{"p":"7","d":"SDSS + SNe","s":"Union3.1","z":0.1,"w":-0.07},{"p":"7","d":"SDSS + SNe","s":"Union3.1","z":0.4,"w":0.02},{"p":"7","d":"SDSS + SNe","s":"Union3.1","z":0.6,"w":0.04},{"p":"7","d":"SDSS + SNe","s":"Union3.1","z":0.8,"w":0.08},{"p":"7","d":"SDSS + SNe","s":"Union3.1","z":1.1,"w":0.13},{"p":"7","d":"SDSS + SNe","s":"Union3.1","z":1.6,"w":0.85},{"p":"7","d":"SDSS + SNe","s":"Union3.1","z":2.0,"w":0.85},
      {"p":"7","d":"SDSS + SNe","s":"Pantheon+","z":0.01,"w":-0.01},{"p":"7","d":"SDSS + SNe","s":"Pantheon+","z":0.1,"w":-0.06},{"p":"7","d":"SDSS + SNe","s":"Pantheon+","z":0.4,"w":0.03},{"p":"7","d":"SDSS + SNe","s":"Pantheon+","z":0.6,"w":0.05},{"p":"7","d":"SDSS + SNe","s":"Pantheon+","z":0.8,"w":0.09},{"p":"7","d":"SDSS + SNe","s":"Pantheon+","z":1.1,"w":0.13},{"p":"7","d":"SDSS + SNe","s":"Pantheon+","z":1.6,"w":0.85},{"p":"7","d":"SDSS + SNe","s":"Pantheon+","z":2.0,"w":0.85},
      {"p":"7","d":"SDSS + SNe","s":"DES-Dovekie","z":0.01,"w":-0.02},{"p":"7","d":"SDSS + SNe","s":"DES-Dovekie","z":0.1,"w":-0.09},{"p":"7","d":"SDSS + SNe","s":"DES-Dovekie","z":0.4,"w":0.04},{"p":"7","d":"SDSS + SNe","s":"DES-Dovekie","z":0.6,"w":0.05},{"p":"7","d":"SDSS + SNe","s":"DES-Dovekie","z":0.8,"w":0.09},{"p":"7","d":"SDSS + SNe","s":"DES-Dovekie","z":1.1,"w":0.14},{"p":"7","d":"SDSS + SNe","s":"DES-Dovekie","z":1.6,"w":0.89},{"p":"7","d":"SDSS + SNe","s":"DES-Dovekie","z":2.0,"w":0.89},
      {"p":"7","d":"DESI + SNe","s":"Union3.1","z":0.01,"w":-0.03},{"p":"7","d":"DESI + SNe","s":"Union3.1","z":0.1,"w":-0.24},{"p":"7","d":"DESI + SNe","s":"Union3.1","z":0.4,"w":-0.13},{"p":"7","d":"DESI + SNe","s":"Union3.1","z":0.6,"w":-0.12},{"p":"7","d":"DESI + SNe","s":"Union3.1","z":0.8,"w":-0.1},{"p":"7","d":"DESI + SNe","s":"Union3.1","z":1.1,"w":0.28},{"p":"7","d":"DESI + SNe","s":"Union3.1","z":1.6,"w":1.34},{"p":"7","d":"DESI + SNe","s":"Union3.1","z":2.0,"w":1.34},
      {"p":"7","d":"DESI + SNe","s":"Pantheon+","z":0.01,"w":-0.03},{"p":"7","d":"DESI + SNe","s":"Pantheon+","z":0.1,"w":-0.2},{"p":"7","d":"DESI + SNe","s":"Pantheon+","z":0.4,"w":-0.1},{"p":"7","d":"DESI + SNe","s":"Pantheon+","z":0.6,"w":-0.11},{"p":"7","d":"DESI + SNe","s":"Pantheon+","z":0.8,"w":-0.1},{"p":"7","d":"DESI + SNe","s":"Pantheon+","z":1.1,"w":0.28},{"p":"7","d":"DESI + SNe","s":"Pantheon+","z":1.6,"w":1.33},{"p":"7","d":"DESI + SNe","s":"Pantheon+","z":2.0,"w":1.33},
      {"p":"7","d":"DESI + SNe","s":"DES-Dovekie","z":0.01,"w":-0.04},{"p":"7","d":"DESI + SNe","s":"DES-Dovekie","z":0.1,"w":-0.33},{"p":"7","d":"DESI + SNe","s":"DES-Dovekie","z":0.4,"w":-0.12},{"p":"7","d":"DESI + SNe","s":"DES-Dovekie","z":0.6,"w":-0.11},{"p":"7","d":"DESI + SNe","s":"DES-Dovekie","z":0.8,"w":-0.09},{"p":"7","d":"DESI + SNe","s":"DES-Dovekie","z":1.1,"w":0.29},{"p":"7","d":"DESI + SNe","s":"DES-Dovekie","z":1.6,"w":1.51},{"p":"7","d":"DESI + SNe","s":"DES-Dovekie","z":2.0,"w":1.51}
    ]
  },
  "spacing": 13,
  "vconcat": [
    {
      "data": {"name": "top"},
      "facet": {"column": {"field": "p", "type": "nominal", "header": {"title": null, "labelExpr": "'𝑤ᴅᴇ LPCA ' + datum.value", "labelPadding": 6, "labelFontSize": 22}}},
      "spacing": 0,
      "bounds": "flush",
      "spec": {
        "width": 184.4,
        "height": 160,
        "layer": [
          {
            "transform": [{"filter": "datum.k === 'band'"}],
            "mark": {"type": "rect"},
            "encoding": {
              "y": {"field": "lo", "type": "quantitative", "scale": {"domain": [0, 4], "nice": false}, "axis": {"values": [1, 2, 3], "title": "ΛCDM Dev.[σ]", "titlePadding": 8, "titleFontSize": 21, "labelFontSize": 18, "labelPadding": 15, "zindex": 1}},
              "y2": {"field": "hi"},
              "fill": {"field": "band", "type": "nominal", "scale": {"domain": ["0-1", "1-2", "2-3", "3-4"], "range": ["#cde4ee", "#e2f0f5", "#eef6f9", "#f6fafc"]}, "legend": null}
            }
          },
          {
            "transform": [{"filter": "datum.k === 'pt'"}],
            "mark": {"type": "point", "filled": true, "opacity": 1, "size": 130},
            "encoding": {
              "x": {"field": "i", "type": "quantitative", "scale": {"domain": [-1.4, 6.4], "nice": false}, "axis": null},
              "y": {"field": "v", "type": "quantitative"},
              "color": {"field": "d", "type": "nominal", "title": null, "scale": {"domain": ["SDSS + SNe", "DESI + SNe"], "range": ["#2e8b57", "#4682b4"]}, "legend": {"symbolType": "M-2,-0.6H2V0.6H-2Z", "symbolSize": 900, "symbolOpacity": 0.65, "orient": "none", "legendX": 117, "legendY": -86, "direction": "horizontal", "labelOffset": 28, "columnPadding": 24}},
              "shape": {"field": "s", "type": "nominal", "title": null, "scale": {"domain": ["Union3.1", "Pantheon+", "DES-Dovekie"], "range": ["circle", "square", "triangle-up"]}, "legend": {"orient": "none", "legendX": 578, "legendY": -81, "direction": "horizontal", "symbolFillColor": "#888", "symbolStrokeColor": "#888", "symbolSize": 60, "labelOffset": 50, "columnPadding": 52}}
            }
          },
          {
            "transform": [{"filter": "datum.k === 'pt' && datum.v2 != null"}],
            "mark": {"type": "rule", "color": "#9a9a9a", "strokeWidth": 2.5, "strokeDash": [6, 4], "opacity": 0.9},
            "encoding": {
              "x": {"field": "i", "type": "quantitative"},
              "y": {"field": "v", "type": "quantitative"},
              "y2": {"field": "v2"}
            }
          }
        ]
      }
    },
    {
      "data": {"name": "bottom"},
      "facet": {"column": {"field": "p", "type": "nominal", "header": {"title": "Redshift 𝑧", "titleOrient": "bottom", "titleFontSize": 25, "titlePadding": 10, "labels": false}}},
      "spacing": 0,
      "bounds": "flush",
      "spec": {
        "width": 184.4,
        "height": 160,
        "layer": [
          {
            "mark": {"type": "line", "interpolate": "step-after", "strokeWidth": 3, "opacity": 0.72, "clip": true},
            "encoding": {
              "x": {"field": "z", "type": "quantitative", "scale": {"domain": [0.01, 2.0], "nice": false}, "axis": {"values": [0.1, 0.4, 0.6, 0.8, 1.1, 1.6], "labelAngle": -60, "labelFontSize": 17, "labelOverlap": false, "labelPadding": 8, "title": null, "zindex": 1}},
              "y": {"field": "w", "type": "quantitative", "scale": {"domain": [-0.4, 1.6], "nice": false}, "axis": {"values": [0, 0.5, 1, 1.5], "format": "~g", "title": "LPCA Weights", "titlePadding": 8, "titleFontSize": 21, "labelFontSize": 18, "labelPadding": 15, "zindex": 1}},
              "color": {"field": "d", "type": "nominal"},
              "strokeDash": {"field": "s", "type": "nominal", "scale": {"domain": ["Union3.1", "Pantheon+", "DES-Dovekie"], "range": [[1, 0], [8, 3, 2, 3], [3, 4]]}, "legend": null},
              "detail": {"field": "s"}
            }
          },
          {
            "mark": {"type": "rule", "color": "black", "strokeWidth": 1.5, "strokeDash": [4, 3]},
            "encoding": {"y": {"datum": 0}}
          }
        ]
      }
    }
  ]
}
